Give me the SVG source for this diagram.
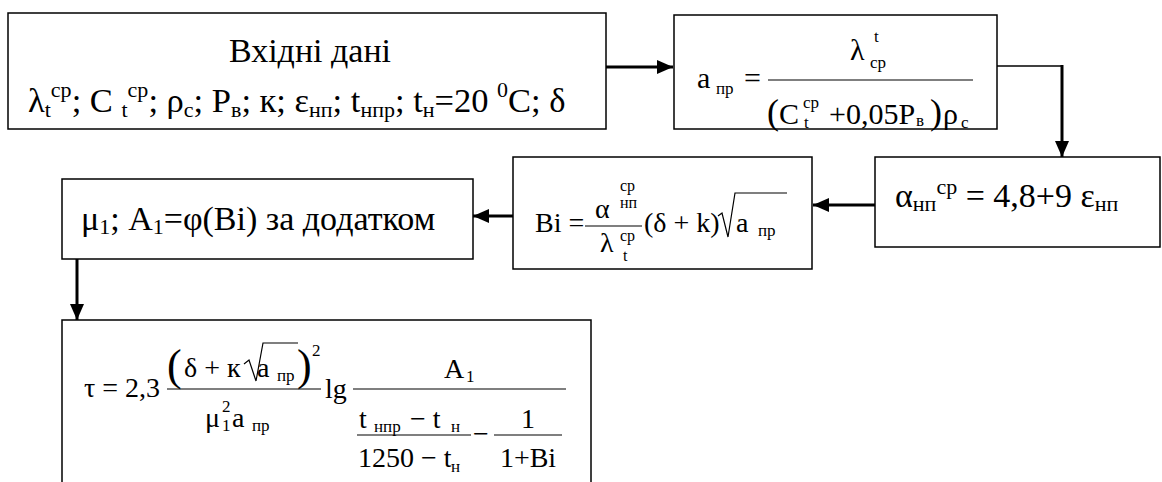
<svg xmlns="http://www.w3.org/2000/svg" width="1162" height="482" viewBox="0 0 1162 482" font-family="'Liberation Serif', 'Times New Roman', 'DejaVu Serif', serif">
<style>
text{font-family:'Liberation Serif','Times New Roman','DejaVu Serif',serif;fill:#000}
.box{fill:#fff;stroke:#000;stroke-width:1.5}
.m{font-size:34px}
.f{font-size:28px}
.f30{font-size:30px}
.s{font-size:22px}
.fs{font-size:17px}
.fs2{font-size:16px}
.p{font-size:36px}
.pt{font-size:44px}
.bar{stroke:#000;stroke-width:1.2}
.thick{stroke:#000;stroke-width:3;fill:none}
.thin{stroke:#000;stroke-width:1.5;fill:none}
.rad{stroke:#000;stroke-width:1.2;fill:none}
</style>
<defs>
<marker id="ah" markerUnits="userSpaceOnUse" markerWidth="16" markerHeight="14" refX="16" refY="7" orient="auto">
<path d="M0,0 L16,7 L0,14 z" fill="#000"/>
</marker>
</defs>
<rect width="1162" height="482" fill="#fff"/>

<g id="input">
<rect class="box" x="8" y="13" width="598" height="116"/>
<text x="310" y="62" class="m" text-anchor="middle">Вхідні дані</text>
<text x="28" y="112" class="m" style="font-size:34.5px">λ<tspan class="s" dy="5">t</tspan><tspan class="s" dy="-20">ср</tspan><tspan dy="15">; C </tspan><tspan class="s" dy="5">t</tspan><tspan class="s" dy="-20">ср</tspan><tspan dy="15">; ρ</tspan><tspan class="s" dy="5">c</tspan><tspan dy="-5">; P</tspan><tspan class="s" dy="5">в</tspan><tspan dy="-5">; к; ε</tspan><tspan class="s" dy="5">нп</tspan><tspan dy="-5">; t</tspan><tspan class="s" dy="5">нпр</tspan><tspan dy="-5">; t</tspan><tspan class="s" dy="5">н</tspan><tspan dy="-5">=20 </tspan><tspan class="s" dy="-15">0</tspan><tspan dy="15">C; δ</tspan></text>
</g>

<g id="a-pr">
<rect class="box" x="674" y="15" width="323" height="114"/>
<text x="697" y="88" class="f30">a</text>
<text x="716" y="94" class="fs">пр</text>
<text x="744" y="88" class="f30">=</text>
<line class="bar" x1="768" y1="80" x2="973" y2="80"/>
<text x="850" y="60" class="f30">λ</text>
<text x="874" y="42" class="fs">t</text>
<text x="870" y="68" class="fs">ср</text>
<text x="767" y="124" class="p">(</text>
<text x="779" y="124" class="f30">C</text>
<text x="803" y="108" class="fs">ср</text>
<text x="804" y="128" class="fs">t</text>
<text x="829" y="124" class="f30">+0,05P</text>
<text x="916" y="126" class="fs">в</text>
<text x="930" y="124" class="p">)</text>
<text x="943" y="124" class="f30">ρ</text>
<text x="961" y="128" class="fs">c</text>
</g>

<g id="alpha">
<rect class="box" x="875" y="157" width="285" height="90"/>
<text x="895" y="207" class="m">α<tspan class="s" dy="4">нп</tspan><tspan class="s" dy="-17">ср</tspan><tspan dy="13"> = 4,8+9 ε</tspan><tspan class="s" dy="4">нп</tspan></text>
</g>

<g id="bi">
<rect class="box" x="513" y="157" width="299" height="112"/>
<text x="535" y="232" class="f">Bi =</text>
<line class="bar" x1="585" y1="226" x2="642" y2="226"/>
<text x="595" y="218" class="f">α</text>
<text x="620" y="191" class="fs2">ср</text>
<text x="620" y="208" class="fs2">нп</text>
<text x="600" y="252" class="f">λ</text>
<text x="620" y="241" class="fs2">ср</text>
<text x="623" y="261" class="fs2">t</text>
<text x="644" y="232" class="f">(δ + k)</text>
<path class="rad" d="M718,216 L722,213 L728,237 L735,193 L787,193"/>
<text x="736" y="232" class="f">a</text>
<text x="758" y="236" class="fs">пр</text>
</g>

<g id="mu">
<rect class="box" x="62" y="179" width="411" height="80"/>
<text x="81" y="230" class="m">μ<tspan class="s" dy="4">1</tspan><tspan dy="-4">; A</tspan><tspan class="s" dy="4">1</tspan><tspan dy="-4">=φ(Bi) за додатком</tspan></text>
</g>

<g id="tau">
<rect class="box" x="62" y="320" width="529" height="175"/>
<text x="84" y="397" class="f">τ = 2,3</text>
<line class="bar" x1="167" y1="389" x2="321" y2="389"/>
<text x="167" y="380" class="pt">(</text>
<text x="184" y="377" class="f">δ + к</text>
<path class="rad" d="M244,364 L249,360 L256,381 L263,343 L298,343"/>
<text x="257" y="377" class="f">a</text>
<text x="277" y="381" class="fs">пр</text>
<text x="297" y="380" class="pt">)</text>
<text x="312" y="356" class="fs">2</text>
<text x="205" y="427" class="f">μ</text>
<text x="222" y="412" class="fs">2</text>
<text x="222" y="431" class="fs">1</text>
<text x="232" y="427" class="f">a</text>
<text x="252" y="431" class="fs">пр</text>
<text x="325" y="398" class="f">lg</text>
<line class="bar" x1="353" y1="389" x2="566" y2="389"/>
<text x="444" y="378" class="f">A</text>
<text x="466" y="382" class="fs">1</text>
<line class="bar" x1="357" y1="435" x2="471" y2="435"/>
<text x="359" y="428" class="f">t</text>
<text x="374" y="432" class="fs">нпр</text>
<text x="410" y="428" class="f">− t</text>
<text x="451" y="432" class="fs">н</text>
<text x="358" y="467" class="f">1250 − t</text>
<text x="451" y="472" class="fs">н</text>
<text x="473" y="443" class="f">−</text>
<line class="bar" x1="494" y1="435" x2="562" y2="435"/>
<text x="528" y="428" class="f" text-anchor="middle">1</text>
<text x="528" y="467" class="f" text-anchor="middle">1+Bi</text>
</g>

<g id="connectors">
<path class="thick" d="M606,67 L673,67" marker-end="url(#ah)"/>
<path class="thin" d="M997,66 L1062,66"/>
<path class="thick" d="M1062,65 L1062,157" marker-end="url(#ah)"/>
<path class="thick" d="M875,205 L813,205" marker-end="url(#ah)"/>
<path class="thick" d="M513,216 L473,216" marker-end="url(#ah)"/>
<path class="thick" d="M77,259 L77,320" marker-end="url(#ah)"/>
</g>
</svg>
